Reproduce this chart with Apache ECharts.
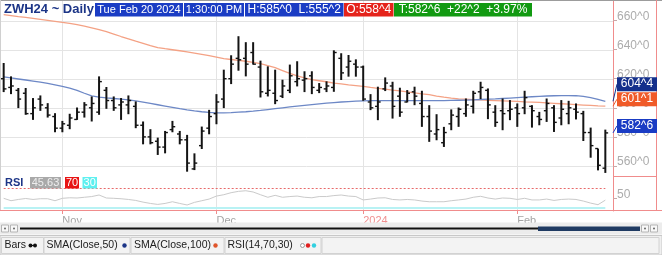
<!DOCTYPE html>
<html><head><meta charset="utf-8">
<script src="https://cdn.jsdelivr.net/npm/echarts@6/dist/echarts.min.js"></script>
<style>html,body{margin:0;padding:0;background:#fff}#c{width:662px;height:255px}</style>
</head><body><div id="c"></div>
<script>
// ---- data ----
const dates = [
'2023-10-20','2023-10-23','2023-10-24','2023-10-25','2023-10-26','2023-10-27','2023-10-30','2023-10-31',
'2023-11-01','2023-11-02','2023-11-03','2023-11-06','2023-11-07','2023-11-08','2023-11-09','2023-11-10','2023-11-13','2023-11-14','2023-11-15','2023-11-16','2023-11-17','2023-11-20','2023-11-21','2023-11-22','2023-11-24','2023-11-27','2023-11-28','2023-11-29','2023-11-30',
'2023-12-01','2023-12-04','2023-12-05','2023-12-06','2023-12-07','2023-12-08','2023-12-11','2023-12-12','2023-12-13','2023-12-14','2023-12-15','2023-12-18','2023-12-19','2023-12-20','2023-12-21','2023-12-22','2023-12-26','2023-12-27','2023-12-28','2023-12-29',
'2024-01-02','2024-01-03','2024-01-04','2024-01-05','2024-01-08','2024-01-09','2024-01-10','2024-01-11','2024-01-12','2024-01-16','2024-01-17','2024-01-18','2024-01-19','2024-01-22','2024-01-23','2024-01-24','2024-01-25','2024-01-26','2024-01-29','2024-01-30','2024-01-31',
'2024-02-01','2024-02-02','2024-02-05','2024-02-06','2024-02-07','2024-02-08','2024-02-09','2024-02-12','2024-02-13','2024-02-14','2024-02-15','2024-02-16','2024-02-20'];
const opens  = [620,614,612,610,596,606,600,594, 586,588,592,597,600,597,612,605,602,602,601,588,580,577,573,585,582,578,558,574,586, 596,606,620,634,634,638,628,610,610,608,612,618,619,622,612,613,614,634,628,630, 628,604,601,613,615,608,604,611,603,594,582,576,589,594,596,601,611,612,597,598,598, 600,600,601,594,598,600,593,596,599,596,583,572,558.5];
const highs  = [630.8,621.6,613.6,613.6,606.7,608.5,603.2,596.3, 591.0,595.9,600.2,603.9,607.8,621.6,614.3,607.8,606.7,608.5,604.4,590.6,585.3,579.5,584.1,591.0,584.1,581.4,568.7,587.1,598.6, 609.4,626.2,636.1,649.2,645.1,645.1,632.4,628.5,626.2,619.3,629.7,632.0,625.1,625.1,617.0,618.2,639.5,637.5,636.3,633.3, 629.0,609.4,614.5,620.9,617.9,613.8,612.2,614.5,611.7,601.8,595.6,586.9,598.9,600.2,606.4,611.7,617.9,613.3,601.8,606.4,605.3, 603.0,611.7,601.8,597.2,606.4,601.8,605.3,604.8,603.0,597.9,586.4,572.0,585.0];
const lows   = [610.8,609.4,599.8,595.2,591.7,597.9,593.3,583.2, 583.2,585.3,591.7,593.3,590.6,595.2,599.3,597.9,591.7,595.6,586.0,574.9,574.9,567.6,568.7,583.2,574.9,556.1,557.2,571.7,581.8, 588.7,599.8,616.3,625.5,621.6,629.7,607.1,607.8,602.5,606.7,610.1,614.7,610.8,609.4,610.1,610.8,611.0,619.1,621.4,621.4, 604.8,598.4,591.5,611.5,592.6,593.8,603.7,601.8,586.9,576.6,577.7,573.1,584.6,586.9,593.8,596.1,606.0,592.2,586.9,584.6,591.5, 586.9,595.6,586.4,588.0,590.3,583.4,588.0,588.7,592.0,577.2,565.7,557.0,555.25];
const closes = [613,615,606,596,600,602,595,586, 589,593,597,602,603,618,605,600,604,605,588,580,576,573,583,587,578,562,562,584,594, 604,620,630,633,630,630,611,612,605,615,622,620,620,614,614,615,638,624,632,628, 606,600,604,617,601,597,610,608,594,584,585,583,595,599,602,610,614,602,590,596,599, 596,607,598,592,603,590,599,600,597,583,574,560.5,582.75];
const sma50  = [621.2,620.5,619.8,619.1,618.4,617.6,616.8,615.8, 614.8,613.6,612.0,610.0,608.2,607.3,606.8,606.4,606.0,605.5,604.8,603.9,603.0,602.1,601.2,600.3,599.4,598.6,597.9,597.3,596.8, 596.5,596.5,596.7,597.0,597.3,597.7,598.2,598.8,599.4,600.0,600.6,601.2,601.7,602.2,602.7,603.2,603.6,604.0,604.3,604.6, 604.8,604.9,605.0,605.0,605.0,605.0,605.0,605.0,605.0,605.0,605.0,605.0,605.1,605.2,605.3,605.5,605.7,605.9,606.1,606.4,606.7, 607.0,607.3,607.6,607.9,608.1,608.3,608.4,608.4,608.3,607.8,607.0,605.8,604.5];
const sma100 = [664.0,663.4,662.7,662.1,661.5,660.8,660.1,659.4, 658.7,658.0,657.1,656.1,655.0,653.8,652.3,650.7,649.0,647.4,645.8,644.3,642.8,641.4,640.6,639.9,639.2,638.5,637.6,636.7,635.8, 634.8,633.8,633.2,632.6,632.0,631.2,630.3,629.0,627.6,625.6,623.6,621.9,620.5,619.3,618.6,617.9,617.0,616.4,615.7,615.2, 614.7,614.0,613.4,612.8,612.2,611.7,611.0,610.3,609.6,609.0,608.1,607.3,606.6,606.2,605.9,605.6,605.4,605.2,605.0,604.8,604.6, 604.4,604.1,603.9,603.7,603.4,603.1,602.8,602.5,602.2,601.9,601.6,601.3,601.125];
const rsi    = [49.4,44.4,47,49,47,48.5,48.5,44.4, 49.4,50.5,50,51.5,53,56.2,50,49.4,48.5,47,45,41.5,38.8,36.8,38.8,42.3,38.8,35.6,41,44.4,47.8, 54,56.8,61,63.7,65,62.4,56.8,51.5,55.5,51.5,53,54,51.5,50.5,53,53,55,56.2,54,53, 46,47.8,50,50.5,47,46,47,46,43.7,42.3,42.3,42.3,44.4,46,47.8,51.5,53.5,50,47.8,50,49.4, 47,49.4,46,46,47.8,45,47,47.8,47,43.7,39.5,36.2,45.63];
const priceTicks = [560, 580, 600, 620, 640, 660];
const rsiTicks = [50];
const rsiLevels = [70, 30];
const monthLabels = {'2023-11-01':'Nov','2023-12-01':'Dec','2024-01-02':'2024','2024-02-01':'Feb'};
const headerTitle = 'ZWH24 ~ Daily';
const headerItems = ['Tue Feb 20 2024','1:30:00 PM','H:585^0  L:555^2','O:558^4','T:582^6  +22^2  +3.97%'];
const legendItems = ['Bars','SMA(Close,50)','SMA(Close,100)','RSI(14,70,30)'];

// ---- helpers ----
const fmt8 = v => { const w = Math.floor(v + 1e-9); const e = Math.round((v - w) * 8); return w + '^' + e; };
const labelIdx = Object.keys(monthLabels).map(d => dates.indexOf(d));
const labelSet = new Set(labelIdx);
const lastI = dates.length - 1;
const FONT = '"Liberation Sans", Arial, sans-serif';
const GRIDC = '#e4e4e4';

const chart = echarts.init(document.getElementById('c'), null, {renderer: 'canvas'});

const staticGraphics = [];
function G(o) { staticGraphics.push(o); }
// frame
G({type:'line', shape:{x1:0,y1:0.5,x2:662,y2:0.5}, style:{stroke:'#9c9c9c', lineWidth:1}, z:10});
G({type:'line', shape:{x1:0.5,y1:0,x2:0.5,y2:211}, style:{stroke:'#d0d0d0', lineWidth:1}, z:10});
G({type:'line', shape:{x1:656.5,y1:0,x2:656.5,y2:211}, style:{stroke:'#f08c8c', lineWidth:1}, z:10});
G({type:'line', shape:{x1:613,y1:176.5,x2:657,y2:176.5}, style:{stroke:'#f08c8c', lineWidth:1}, z:10});
G({type:'line', shape:{x1:0,y1:210.5,x2:662,y2:210.5}, style:{stroke:'#f08c8c', lineWidth:1}, z:10});
// header
G({type:'text', x:4, y:9.5, style:{text:headerTitle, font:'bold 13px ' + FONT, fill:'#1c3587', verticalAlign:'middle'}, z:20});
const hb = [[95,88,'#1a3cc4',11],[184,60,'#1a3cc4',11],[245,98.5,'#1a3cc4',12],[344,49.5,'#e5231b',12],[394,138,'#119a11',12]];
hb.forEach((b, k) => {
  G({type:'rect', shape:{x:b[0], y:3, width:b[1], height:13.5}, style:{fill:b[2]}, z:20});
  G({type:'text', x:b[0] + b[1]/2, y:10, style:{text:headerItems[k], font:b[3] + 'px ' + FONT, fill:'#fff', align:'center', verticalAlign:'middle'}, z:21});
});
// RSI caption
G({type:'text', x:5, y:183, style:{text:'RSI', font:'bold 11px ' + FONT, fill:'#1c3587', verticalAlign:'middle'}, z:20});
G({type:'rect', shape:{x:30,y:177,width:31,height:11.5}, style:{fill:'#a9a9a9'}, z:20});
G({type:'text', x:45.5, y:183, style:{text:rsi[lastI].toFixed(2), font:'11px ' + FONT, fill:'#eeeeee', align:'center', verticalAlign:'middle'}, z:21});
G({type:'rect', shape:{x:65,y:177,width:14,height:11.5}, style:{fill:'#e81414'}, z:20});
G({type:'text', x:72, y:183, style:{text:String(rsiLevels[0]), font:'11px ' + FONT, fill:'#fff', align:'center', verticalAlign:'middle'}, z:21});
G({type:'rect', shape:{x:82.5,y:177,width:14.5,height:11.5}, style:{fill:'#5ff0f0'}, z:20});
G({type:'text', x:89.7, y:183, style:{text:String(rsiLevels[1]), font:'11px ' + FONT, fill:'#fff', align:'center', verticalAlign:'middle'}, z:21});
// scrollbar
G({type:'rect', shape:{x:0,y:222.5,width:662,height:12}, style:{fill:'#ececec'}, z:5});
[1.5,10.5,641.5,650.5].forEach(x => {
  G({type:'rect', shape:{x:x,y:225,width:7,height:7}, style:{fill:'#f8f8f8', stroke:'#b4b4b4', lineWidth:1}, z:6});
  G({type:'circle', shape:{cx:x+3.5, cy:228.5, r:1}, style:{fill:'#666'}, z:7});
});
G({type:'line', shape:{x1:20,y1:228.5,x2:538,y2:228.5}, style:{stroke:'#111', lineWidth:2}, z:6});
G({type:'rect', shape:{x:538,y:226.5,width:102,height:4.5}, style:{fill:'#1f3a62'}, z:6});
// legend bar
G({type:'rect', shape:{x:0,y:235.5,width:662,height:19.5}, style:{fill:'#efefef', stroke:'#c8c8c8', lineWidth:1}, z:5});
[[1.5,42],[44,86],[131,93],[225,96],[322,337]].forEach(b => {
  G({type:'rect', shape:{x:b[0],y:237.5,width:b[1],height:16}, style:{fill:'#f3f3f3', stroke:'#d2d2d2', lineWidth:1}, z:6});
});
[4.5,46.5,134,227.5].forEach((x, k) => {
  G({type:'text', x:x, y:245.5, style:{text:legendItems[k], font:'10.5px ' + FONT, fill:'#202020', verticalAlign:'middle'}, z:7});
});
G({type:'line', shape:{x1:30.5,y1:245.5,x2:35,y2:245.5}, style:{stroke:'#111', lineWidth:1}, z:7});
G({type:'circle', shape:{cx:30.5,cy:245.5,r:2}, style:{fill:'#111'}, z:7});
G({type:'circle', shape:{cx:35,cy:245.5,r:2}, style:{fill:'#111'}, z:7});
G({type:'circle', shape:{cx:124.5,cy:245.5,r:2.2}, style:{fill:'#1c3587'}, z:7});
G({type:'circle', shape:{cx:215.5,cy:245.5,r:2.2}, style:{fill:'#e0552b'}, z:7});
G({type:'circle', shape:{cx:302.5,cy:245.5,r:2}, style:{fill:'#fff', stroke:'#999', lineWidth:1}, z:7});
G({type:'circle', shape:{cx:308,cy:245.5,r:2.2}, style:{fill:'#e02020'}, z:7});
G({type:'circle', shape:{cx:314,cy:245.5,r:2.2}, style:{fill:'#30d0e0'}, z:7});

// gridline renderers (positions from the axes' own scales)
const hLine = (params, api) => {
  const cs = params.coordSys;
  const y = Math.round(api.coord([0, api.value(1)])[1]) + 0.5;
  return {type:'line', shape:{x1:cs.x, y1:y, x2:cs.x + cs.width + 4, y2:y}, style:{stroke:GRIDC, lineWidth:1}};
};
const vLine = (params, api) => {
  const cs = params.coordSys;
  const x = Math.round(api.coord([api.value(0), api.value(1)])[0]) + 0.5;
  return {type:'line', shape:{x1:x, y1:cs.y, x2:x, y2:cs.y + cs.height}, style:{stroke:GRIDC, lineWidth:1}};
};

const option = {
  animation: false,
  backgroundColor: '#fff',
  grid: [
    {left: -1, right: 53, top: 0, height: 176},
    {left: -1, right: 53, top: 176, height: 35}
  ],
  xAxis: [
    {type:'category', gridIndex:0, data:dates, boundaryGap:true, show:false},
    {type:'category', gridIndex:1, data:dates, boundaryGap:true,
     axisLine:{show:false},
     axisTick:{show:true, interval:(i) => labelSet.has(i), alignWithLabel:true, length:3, lineStyle:{color:'#f08c8c'}},
     axisLabel:{show:true, interval:(i) => labelSet.has(i), formatter:(v) => monthLabels[v] || '',
       color:(v) => v === '2024-01-02' ? '#f09090' : '#a4a4a4', align:'left', fontSize:11, fontFamily:FONT, margin:4},
     splitLine:{show:false}}
  ],
  yAxis: [
    {type:'value', gridIndex:0, position:'right', offset:4, min:553.13, max:674.09,
     axisLine:{show:true, lineStyle:{color:'#f08c8c'}},
     axisTick:{show:true, customValues:priceTicks, length:4, lineStyle:{color:'#c8a8a8'}},
     axisLabel:{show:true, customValues:priceTicks, formatter:(v) => fmt8(v), color:'#acacac', fontSize:12, fontFamily:FONT, verticalAlign:'bottom', lineHeight:8, margin:4},
     splitLine:{show:false}},
    {type:'value', gridIndex:1, position:'right', offset:4, min:23.2, max:95.4,
     axisLine:{show:true, lineStyle:{color:'#f08c8c'}},
     axisTick:{show:true, customValues:rsiTicks, length:4, lineStyle:{color:'#c8a8a8'}},
     axisLabel:{show:true, customValues:rsiTicks, formatter:(v) => String(v), color:'#acacac', fontSize:12, fontFamily:FONT, verticalAlign:'bottom', lineHeight:6, margin:4},
     splitLine:{show:false}}
  ],
  series: [
    {type:'custom', name:'gridH', xAxisIndex:0, yAxisIndex:0, z:1, silent:true, clip:false,
     data: priceTicks.map(v => [0, v]), renderItem:hLine},
    {type:'custom', name:'gridV', xAxisIndex:0, yAxisIndex:0, z:1, silent:true,
     data: labelIdx.map(i => [i, 600]), renderItem:vLine},
    {type:'custom', name:'gridV2', xAxisIndex:1, yAxisIndex:1, z:1, silent:true,
     data: labelIdx.map(i => [i, 50]), renderItem:vLine},
    {type:'line', name:'SMA100', xAxisIndex:0, yAxisIndex:0, data:sma100, showSymbol:false, z:2,
     lineStyle:{color:'#f4a285', width:1.3}},
    {type:'line', name:'SMA50', xAxisIndex:0, yAxisIndex:0, data:sma50, showSymbol:false, z:2,
     lineStyle:{color:'#6d88c6', width:1.3}},
    {type:'custom', name:'Bars', xAxisIndex:0, yAxisIndex:0, z:4,
     data: dates.map((d, i) => [i, opens[i], highs[i], lows[i], closes[i]]),
     encode:{x:0, y:[1,2,3,4]},
     renderItem:(params, api) => {
       const i = api.value(0);
       const o = api.coord([i, api.value(1)]);
       const h = api.coord([i, api.value(2)]);
       const l = api.coord([i, api.value(3)]);
       const c = api.coord([i, api.value(4)]);
       const x = h[0];
       return {type:'group', children:[
         {type:'line', shape:{x1:x, y1:h[1], x2:x, y2:l[1]}, style:{stroke:'#141414', lineWidth:2}},
         {type:'line', shape:{x1:x-2.8, y1:o[1], x2:x, y2:o[1]}, style:{stroke:'#141414', lineWidth:1.4}},
         {type:'line', shape:{x1:x, y1:c[1], x2:x+2.8, y2:c[1]}, style:{stroke:'#141414', lineWidth:1.4}}
       ]};
     }},
    {type:'line', name:'RSI', xAxisIndex:1, yAxisIndex:1, data:rsi, showSymbol:false, z:2,
     lineStyle:{color:'#cacaca', width:1},
     markLine:{silent:true, symbol:['none','none'], label:{show:false}, animation:false,
       data:[
         [{coord:[0, rsiLevels[0]], lineStyle:{color:'#e86a6a', width:1, type:[2,2]}}, {coord:[lastI, rsiLevels[0]]}],
         [{coord:[0, rsiLevels[1]], lineStyle:{color:'#b8f2f4', width:2, type:'solid'}}, {coord:[lastI, rsiLevels[1]]}]
       ]}}
  ],
  graphic: {elements: staticGraphics}
};
chart.setOption(option);

// right-axis value tags (positions from the chart's own scale)
const tags = [
  {v: sma50[lastI], color:'#14308c'},
  {v: sma100[lastI], color:'#f05a28'},
  {v: closes[lastI], color:'#1a3cc4'}
].map(t => Object.assign(t, {py: chart.convertToPixel({yAxisIndex:0}, t.v)}));
tags.sort((a, b) => b.py - a.py);
let prev = null;
tags.forEach(t => {
  t.cy = t.py - 7;
  if (prev !== null && prev - t.cy < 15) t.cy = prev - 15;
  prev = t.cy;
});
const dyn = [];
tags.forEach(t => {
  dyn.push({type:'line', shape:{x1:613, y1:t.py, x2:617, y2:t.cy}, style:{stroke:t.color, lineWidth:1}, z:30});
  dyn.push({type:'rect', shape:{x:617, y:t.cy - 7, width:40, height:14}, style:{fill:t.color}, z:30});
  dyn.push({type:'text', x:637, y:t.cy, style:{text:fmt8(t.v), font:'12px ' + FONT, fill:'#fff', align:'center', verticalAlign:'middle'}, z:31});
});
chart.setOption({graphic: {elements: staticGraphics.concat(dyn)}});
</script>
</body></html>
